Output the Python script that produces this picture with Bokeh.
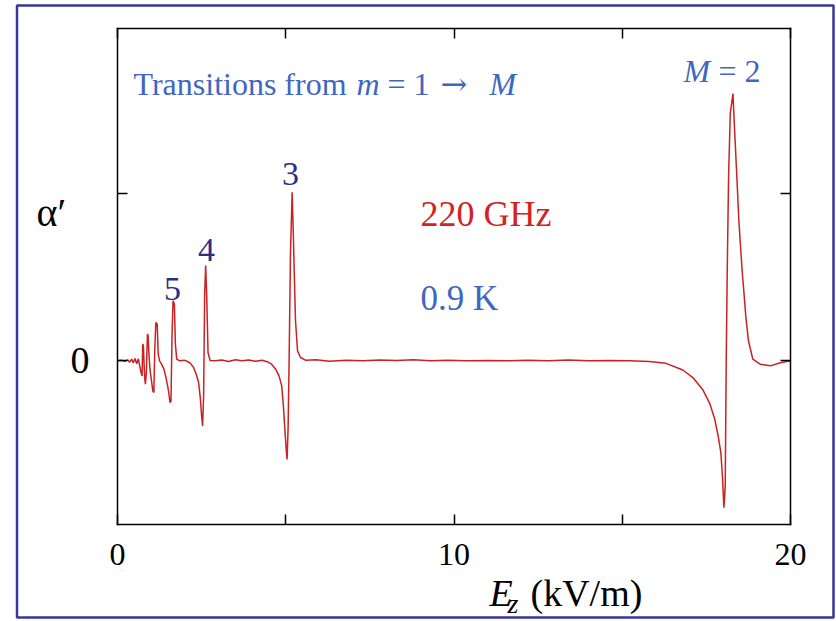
from bokeh.plotting import figure
from bokeh.models import Range1d, LinearAxis, FixedTicker, Label, BoxAnnotation
from bokeh.embed import file_html
from bokeh.resources import INLINE

# ---- data ----
ez = [0.00, 0.12, 0.22, 0.30, 0.36, 0.42, 0.47, 0.52, 0.57, 0.62,
      0.66, 0.70, 0.73, 0.75, 0.77, 0.79, 0.81, 0.83, 0.86, 0.89,
      0.91, 0.94, 0.97, 1.01, 1.05, 1.08, 1.11, 1.14, 1.18, 1.21,
      1.25, 1.31, 1.38, 1.44, 1.49, 1.53, 1.56, 1.59, 1.62, 1.65,
      1.69, 1.72, 1.76, 1.85, 1.98, 2.08, 2.17, 2.26, 2.34, 2.41,
      2.46, 2.50, 2.53, 2.56, 2.59, 2.62, 2.65, 2.69, 2.75, 2.90,
      3.10, 3.30, 3.50, 3.70, 3.90, 4.10, 4.30, 4.45, 4.58, 4.70,
      4.80, 4.88, 4.93, 4.97, 5.01, 5.04, 5.07, 5.10, 5.14, 5.19,
      5.22, 5.25, 5.29, 5.35, 5.44, 5.60, 5.90, 6.30, 6.80, 7.30,
      7.80, 8.30, 8.80, 9.30, 9.80, 10.4, 11.0, 11.6, 12.2, 12.8,
      13.4, 14.0, 14.6, 15.2, 15.8, 16.3, 16.8, 17.1, 17.4, 17.6,
      17.75, 17.85, 17.93, 17.98, 18.02, 18.06, 18.09, 18.12, 18.16, 18.21,
      18.29, 18.33, 18.37, 18.42, 18.46, 18.51, 18.57, 18.62, 18.67, 18.75,
      18.88, 19.10, 19.40, 19.70, 20.00]

alpha = [0.000, 0.004, -0.003, 0.006, -0.008, 0.010, -0.012, 0.014, -0.018, 0.012,
         -0.030, -0.070, -0.090, 0.100, 0.090, -0.020, -0.110, -0.140, -0.060, 0.160,
         0.150, 0.020, -0.060, -0.120, -0.180, -0.190, 0.080, 0.230, 0.220, 0.040,
         0.000, -0.020, -0.050, -0.100, -0.150, -0.200, -0.250, -0.240, 0.150, 0.360,
         0.340, 0.100, 0.010, 0.000, 0.004, -0.004, -0.015, -0.040, -0.080, -0.130,
         -0.220, -0.330, -0.390, -0.200, 0.400, 0.570, 0.400, 0.050, 0.002, 0.000,
         0.005, -0.004, 0.006, 0.000, 0.005, -0.003, 0.004, -0.005, -0.020, -0.050,
         -0.090, -0.150, -0.270, -0.400, -0.520, -0.590, -0.400, 0.000, 0.640, 1.010,
         0.800, 0.550, 0.240, 0.060, 0.020, 0.003, 0.006, -0.002, 0.004, 0.000,
         0.005, 0.002, 0.006, 0.000, 0.004, 0.000, 0.002, 0.000, 0.004, 0.000,
         0.005, 0.000, 0.002, 0.000, -0.004, -0.015, -0.055, -0.100, -0.175, -0.255,
         -0.350, -0.450, -0.550, -0.700, -0.880, -0.750, 0.000, 0.540, 1.100, 1.480,
         1.600, 1.420, 1.250, 1.040, 0.860, 0.700, 0.520, 0.400, 0.270, 0.120,
         0.010, -0.020, -0.030, -0.012, 0.000]

x_ticks = [0, 5, 10, 15, 20]
x_tick_labels = {0: "0", 5: "", 10: "10", 15: "", 20: "20"}
y_ticks = [0, 1]
y_tick_labels = {0: "0", 1: ""}

# ---- geometry: the plotting box sits inside a canvas-wide frame ----
W, H = 836, 621
FL, FR, FT, FB = 117, 790, 28, 524          # pixel box of the axes
X0, X1 = 0, 20
Y0, Y1 = -0.98, 1.99
kx = (X1 - X0) / (FR - FL)
ky = (Y1 - Y0) / (FB - FT)

p = figure(width=W, height=H, output_backend="svg", toolbar_location=None,
           x_axis_location=None, y_axis_location=None,
           x_range=Range1d(X0 - FL * kx, X1 + (W - FR) * kx),
           y_range=Range1d(Y0 - (H - FB) * ky, Y1 + FT * ky),
           min_border=0, min_border_left=0, min_border_right=0,
           min_border_top=0, min_border_bottom=0)
p.background_fill_color = "white"
p.border_fill_color = "white"
p.outline_line_color = None
p.xgrid.visible = False
p.ygrid.visible = False

SERIF = "Liberation Serif"
SERIF_LIST = "Liberation Serif, Times New Roman, serif"

def make_axis(side, loc, bounds, ticks, overrides, size, standoff):
    ax = LinearAxis(fixed_location=loc, bounds=bounds,
                    ticker=FixedTicker(ticks=ticks),
                    major_label_overrides=overrides,
                    major_tick_in=10, major_tick_out=0,
                    minor_tick_in=0, minor_tick_out=0,
                    minor_tick_line_color=None,
                    axis_line_color="black", axis_line_width=1.5,
                    axis_line_cap="square",
                    major_tick_line_color="black", major_tick_line_width=1.5,
                    major_label_text_font=SERIF,
                    major_label_text_font_size=size,
                    major_label_text_color="black",
                    major_label_standoff=standoff)
    p.add_layout(ax, side)
    return ax

make_axis("below", Y0, (X0, X1), x_ticks, x_tick_labels, "32px", 19)
make_axis("above", Y1, (X0, X1), x_ticks, {t: "" for t in x_ticks}, "1px", 0)
make_axis("left", X0, (Y0, Y1), y_ticks, y_tick_labels, "38px", 28)
make_axis("right", X1, (Y0, Y1), y_ticks, {t: "" for t in y_ticks}, "1px", 0)

p.line(ez, alpha, line_color="#c92222", line_width=1.5)

def dx(px):
    return X0 + (px - FL) * kx

def dy(py):
    return Y0 + (FB - py) * ky

BLUE = "#3f66c0"
NAVY = "#2b2d8a"
RED = "#d42222"
FRAME_BLUE = "#36369e"

def lab(px, py, text, color, size, style="normal", align="left", font=SERIF):
    p.add_layout(Label(x=dx(px), y=dy(py), text=text, text_color=color,
                       text_font=font, text_font_size=size,
                       text_font_style=style, text_align=align,
                       text_baseline="alphabetic"))

lab(133, 83, "Transitions from", BLUE, "32px")
lab(356, 83, "m", BLUE, "32px", "italic")
lab(387, 83, "= 1", BLUE, "32px")
lab(440, 83, "\u2192", BLUE, "32px", font="DejaVu Serif")
lab(489, 83, "M", BLUE, "32px", "italic")

lab(683, 70, "M", BLUE, "32px", "italic")
lab(718, 70, "= 2", BLUE, "32px")

lab(290, 173, "3", NAVY, "34px", align="center")
lab(206, 249, "4", NAVY, "34px", align="center")
lab(172, 288, "5", NAVY, "34px", align="center")

lab(420, 213, "220 GHz", RED, "36px")
lab(420, 298, "0.9 K", BLUE, "35px")

lab(36, 212, "\u03b1\u2032", "black", "40px", font=SERIF_LIST)

lab(489, 592, "E", "black", "38px", "italic")
lab(507, 603, "z", "black", "28px", "italic")
lab(530, 592, "(kV/m)", "black", "38px", font=SERIF_LIST)

# outer blue frame of the figure
p.add_layout(BoxAnnotation(left=dx(16.5), right=dx(833), top=dy(5), bottom=dy(617),
                           fill_alpha=0, line_color=FRAME_BLUE, line_alpha=1.0,
                           line_width=2.5))

open("out.html", "w").write(file_html(p, INLINE))
